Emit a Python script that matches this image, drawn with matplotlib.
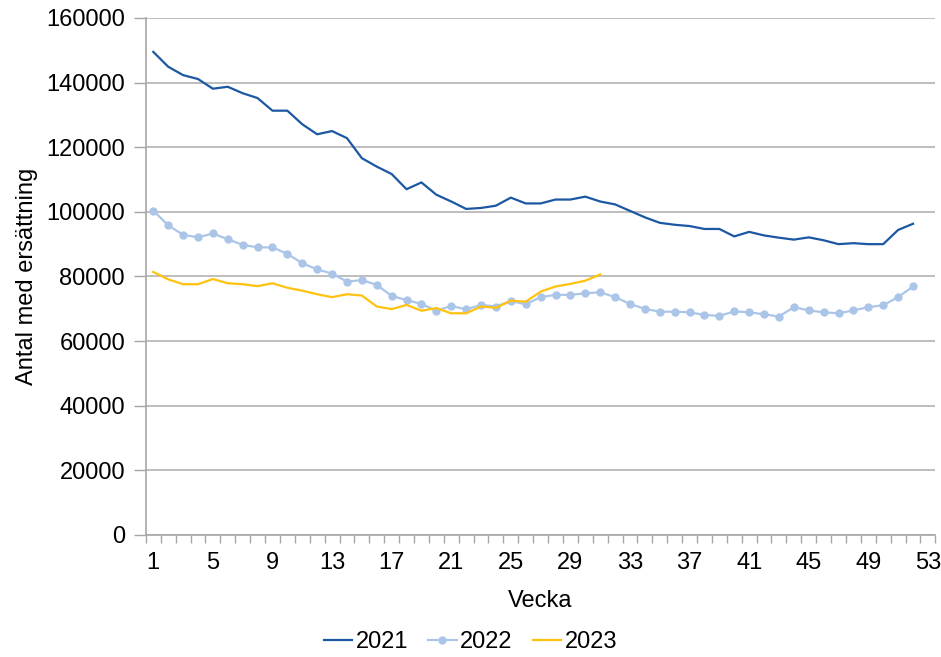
import matplotlib
matplotlib.use("Agg")
import matplotlib.pyplot as plt
import numpy as np

plt.rcParams["font.family"] = ["Liberation Sans", "DejaVu Sans"]

tick_weeks = list(range(1, 54, 4))

v2021 = [149500, 144900, 142300, 141100, 138100, 138700, 136700, 135200, 131300, 131300,
         127100, 124000, 125000, 122800, 116600, 114000, 111700, 107000, 109100, 105300,
         103200, 100900, 101200, 101900, 104400, 102600, 102600, 103800, 103800, 104700,
         103200, 102300, 100300, 98300, 96600, 96000, 95600, 94700, 94700, 92400,
         93800, 92700, 92000, 91400, 92100, 91200, 90000, 90300, 90000, 90000,
         94400, 96300]
v2022 = [100400, 95800, 92900, 92100, 93300, 91500, 89800, 89000, 89000, 87000,
         84100, 82200, 80900, 78400, 78900, 77400, 74000, 72700, 71500, 69400,
         70900, 69800, 71200, 70700, 72400, 71400, 73600, 74300, 74300, 74800,
         75100, 73600, 71500, 70000, 69100, 69100, 68900, 68100, 67800, 69200,
         68900, 68300, 67600, 70500, 69500, 68900, 68600, 69500, 70500, 71100,
         73600, 76900]
v2023 = [81400, 79100, 77600, 77600, 79200, 77900, 77600, 77000, 77900, 76500,
         75600, 74500, 73600, 74500, 74100, 70700, 69900, 71200, 69400, 70200,
         68600, 68600, 70700, 70300, 72500, 72200, 75300, 76900, 77700, 78700,
         80600]

fig = plt.figure(figsize=(9.41, 6.57), dpi=100)
ax = fig.add_axes([0.155, 0.1857, 0.839, 0.787])

ax.plot(np.arange(1, len(v2021) + 1), v2021, color="#1b57a2", lw=1.6, label="2021", zorder=3)
ax.plot(np.arange(1, len(v2022) + 1), v2022, color="#abc5e8", lw=1.6, marker="o",
        markersize=5, label="2022", zorder=3)
ax.plot(np.arange(1, len(v2023) + 1), v2023, color="#ffc20e", lw=1.6, label="2023", zorder=3)

ax.set_xlim(0.5, 53.5)
ax.set_ylim(0, 160000)
ax.set_yticks(np.arange(0, 160001, 20000))
ax.set_xticks(tick_weeks)
ax.set_xticklabels([str(w) for w in tick_weeks])
ax.set_xticks(np.arange(0.5, 54, 1), minor=True)
ax.tick_params(axis="x", which="major", length=0, pad=12, labelsize=17)
ax.tick_params(axis="x", which="minor", length=6, color="#a6a6a6", width=1)
ax.tick_params(axis="y", length=9, color="#a6a6a6", width=1, labelsize=17, pad=6)

ax.grid(axis="y", color="#b3b3b3", lw=1.2)
ax.set_axisbelow(True)
for s in ["top", "right"]:
    ax.spines[s].set_visible(False)
for s in ["left", "bottom"]:
    ax.spines[s].set_color("#a6a6a6")
    ax.spines[s].set_linewidth(1.2)

ax.set_xlabel("Vecka", fontsize=17, labelpad=12)
ax.set_ylabel("Antal med ersättning", fontsize=17, labelpad=6)

fig.legend(loc="lower center", bbox_to_anchor=(0.5, -0.027), ncol=3, frameon=False,
           fontsize=17, handlelength=1.2, columnspacing=0.85, handletextpad=0.15)

fig.savefig("out.png", dpi=100)
